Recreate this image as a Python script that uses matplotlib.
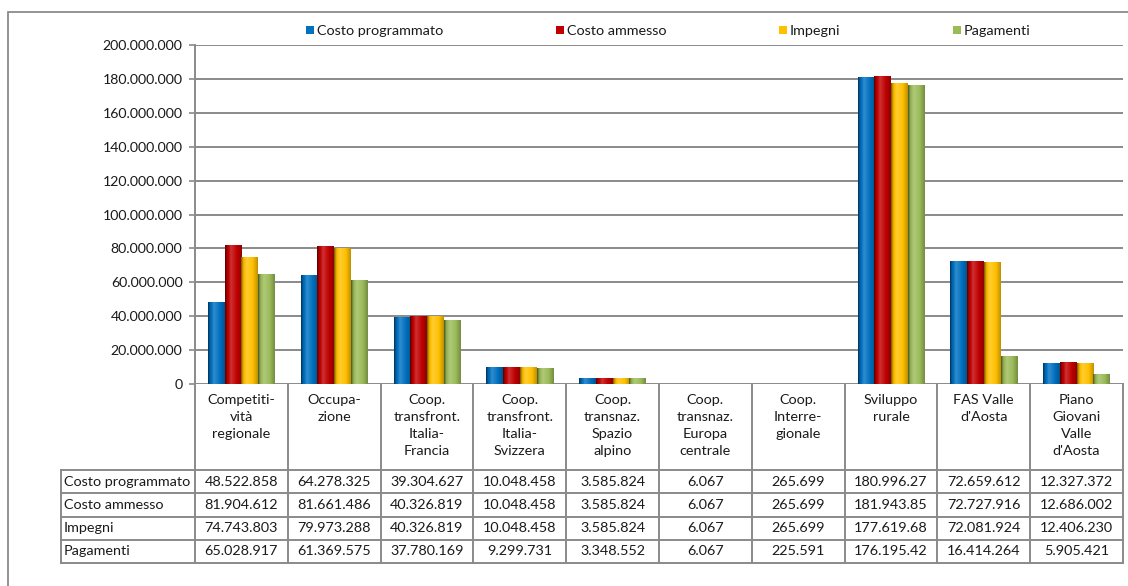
import numpy as np
import matplotlib
matplotlib.use("Agg")
import matplotlib.pyplot as plt
from matplotlib.patches import Patch, Rectangle
from matplotlib.colors import to_rgb
from matplotlib.ticker import FuncFormatter, MultipleLocator
from matplotlib.lines import Line2D

# ---------------- data ----------------
categories = [
    "Competiti-\nvità\nregionale",
    "Occupa-\nzione",
    "Coop.\ntransfront.\nItalia-\nFrancia",
    "Coop.\ntransfront.\nItalia-\nSvizzera",
    "Coop.\ntransnaz.\nSpazio\nalpino",
    "Coop.\ntransnaz.\nEuropa\ncentrale",
    "Coop.\nInterre-\ngionale",
    "Sviluppo\nrurale",
    "FAS Valle\nd'Aosta",
    "Piano\nGiovani\nValle\nd'Aosta",
]
series_names = ["Costo programmato", "Costo ammesso", "Impegni", "Pagamenti"]
costo_programmato = [48522858, 64278325, 39304627, 10048458, 3585824, 6067, 265699, 180996270, 72659612, 12327372]
costo_ammesso = [81904612, 81661486, 40326819, 10048458, 3585824, 6067, 265699, 181943850, 72727916, 12686002]
impegni = [74743803, 79973288, 40326819, 10048458, 3585824, 6067, 265699, 177619680, 72081924, 12406230]
pagamenti = [65028917, 61369575, 37780169, 9299731, 3348552, 6067, 225591, 176195420, 16414264, 5905421]
series = [costo_programmato, costo_ammesso, impegni, pagamenti]
colors = ["#0070C0", "#C00000", "#FFC000", "#9BBB59"]

FONT = "Lato"
FS = 10.4
GRID = "#8a8a8a"
TXT = "#1a1a1a"

W, H = 1128, 586
def fx(px):
    return px / W
def fy(py):
    return 1 - py / H

def it_fmt(v, pos=None):
    return f"{int(round(v)):,}".replace(",", ".")

fig = plt.figure(figsize=(W / 100, H / 100), dpi=100)
plt.rcParams["font.family"] = [FONT, "DejaVu Sans"]

AX_L, AX_R, AX_T, AX_B = 195, 1123, 45, 384
ax = fig.add_axes([fx(AX_L), fy(AX_B), fx(AX_R) - fx(AX_L), fy(AX_T) - fy(AX_B)])

n = len(categories)
x = np.arange(n)
bw = 0.18

def shade(c, s):
    c = np.array(to_rgb(c))
    if s >= 0:
        return c * (1 - s) + s
    return c * (1 + s)

tp = [0.0, 0.12, 0.35, 0.7, 1.0]
sp = [-0.55, -0.12, 0.2, 0.0, -0.25]
tt = np.linspace(0, 1, 64)
ss = np.interp(tt, tp, sp)

for i, (vals, col) in enumerate(zip(series, colors)):
    bars = ax.bar(x + (i - 1.5) * bw, vals, width=bw, color=col, zorder=2, label=series_names[i], lw=0)
    grad = np.array([shade(col, s) for s in ss])[None, :, :]
    for b in bars:
        x0, w_, h_ = b.get_x(), b.get_width(), b.get_height()
        im = ax.imshow(grad, extent=[x0, x0 + w_, 0, h_], aspect="auto", zorder=2.1,
                       interpolation="bilinear")
        im.set_clip_path(b)

ax.set_xlim(-0.5, n - 0.5)
ax.set_ylim(0, 200e6)
ax.yaxis.set_major_locator(MultipleLocator(20e6))
ax.yaxis.set_major_formatter(FuncFormatter(it_fmt))
ax.yaxis.grid(True, color=GRID, lw=1.4)
ax.set_axisbelow(True)
for s in ["top", "right", "bottom"]:
    ax.spines[s].set_visible(False)
ax.spines["left"].set_color(GRID)
ax.spines["left"].set_linewidth(1.4)
ax.set_xticks([])
ax.tick_params(axis="y", length=4, width=1.2, color=GRID, pad=5, labelsize=10.2, labelcolor=TXT)

# ---------------- data table ----------------
TB = 563
HEAD = 86
ROWH = (TB - AX_B - HEAD) / 4
tab = fig.add_axes([fx(AX_L), fy(TB), fx(AX_R) - fx(AX_L), fy(AX_B) - fy(TB)])
tab.set_xlim(-0.5, n - 0.5)
tab.set_ylim(TB - AX_B, 0)
tab.axis("off")
unit = (AX_R - AX_L) / n
xl = -0.5 - (AX_L - 61) / unit

lk = dict(color=GRID, lw=1.4, clip_on=False, solid_capstyle="projecting")
for k in range(n + 1):
    tab.add_line(Line2D([-0.5 + k, -0.5 + k], [0, TB - AX_B], **lk))
for r in range(5):
    yy = HEAD + r * ROWH
    tab.add_line(Line2D([xl, n - 0.5], [yy, yy], **lk))
tab.add_line(Line2D([xl, xl], [HEAD, TB - AX_B], **lk))

for i, c in enumerate(categories):
    tab.text(i, 10, c, ha="center", va="top", fontsize=FS, linespacing=1.5, color=TXT)

for r, (name, vals) in enumerate(zip(series_names, series)):
    yc = HEAD + (r + 0.5) * ROWH
    tab.text(xl + 3 / unit, yc, name, ha="left", va="center", fontsize=FS, color=TXT)
    for i, v in enumerate(vals):
        tab.text(i, yc, it_fmt(v)[:10], ha="center", va="center", fontsize=FS, color=TXT)

# ---------------- legend ----------------
handles = [Patch(facecolor=c, edgecolor="none") for c in colors]
fig.legend(handles, series_names, loc="center left", bbox_to_anchor=(fx(306), fy(31)),
           ncol=4, frameon=False, fontsize=FS, handlelength=0.55, handleheight=0.55,
           handletextpad=0.2, columnspacing=7.8, borderpad=0, borderaxespad=0,
           labelcolor=TXT)

# ---------------- outer frame ----------------
fig.add_artist(Rectangle((fx(8), fy(620)), fx(1160) - fx(8), fy(12) - fy(620),
                         transform=fig.transFigure, fill=False, edgecolor=GRID, lw=1.3))

fig.savefig("out.png", dpi=100, facecolor="white")
